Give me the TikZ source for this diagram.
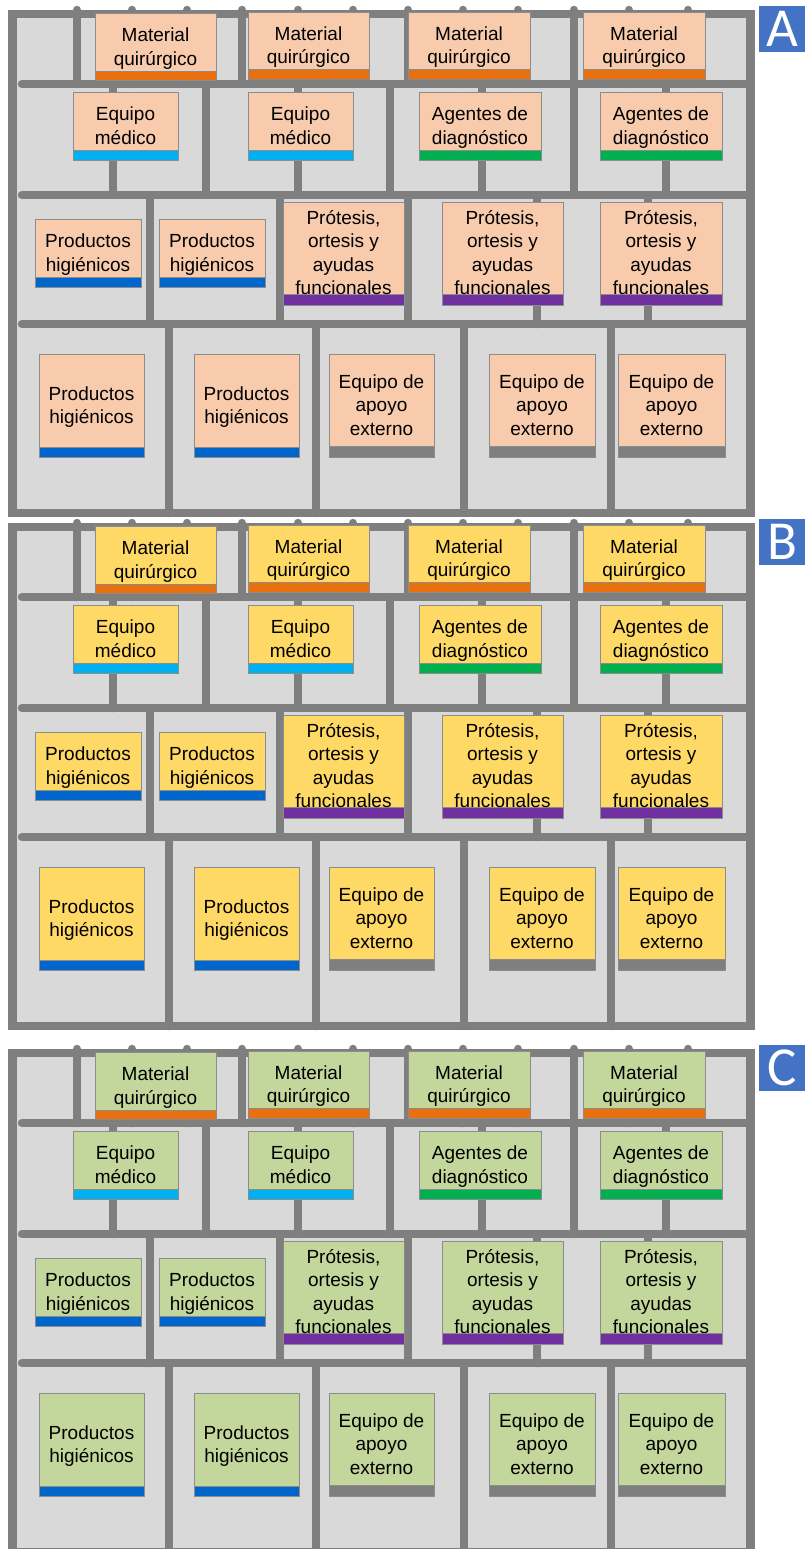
\documentclass[tikz,border=0pt]{standalone}
\usepackage{fontspec}
\setmainfont{Liberation Sans}
\newfontfamily\labelfont{Carlito}
\definecolor{framegray}{HTML}{7F7F7F}
\definecolor{cellfill}{HTML}{D9D9D9}
\definecolor{boxborder}{HTML}{8C8C8C}
\definecolor{peach}{HTML}{F8CBAD}
\definecolor{yellowfill}{HTML}{FFD966}
\definecolor{olivefill}{HTML}{C3D69B}
\definecolor{barorange}{HTML}{E8700F}
\definecolor{barcyan}{HTML}{00B0F0}
\definecolor{bargreen}{HTML}{00B050}
\definecolor{barblue}{HTML}{0066CC}
\definecolor{barpurple}{HTML}{7030A0}
\definecolor{bargray}{HTML}{7F7F7F}
\definecolor{labelblue}{HTML}{4472C4}
\tikzset{
  gridline/.style={line width=8.5pt, draw=framegray, line cap=round},
  framerect/.style={line width=8.5pt, draw=framegray},
  boxline/.style={draw=boxborder, line width=0.8pt},
  itemtext/.style={inner sep=0pt, align=center, text=black, font=\fontsize{19}{23.5}\selectfont},
  labelbox/.style={fill=labelblue, text=white, inner sep=0pt, minimum width=47pt, minimum height=46pt, font=\labelfont\fontsize{55}{55}\selectfont}
}
% #1 name, #2 x1, #3 x2, #4 top, #5 bar top, #6 bar bottom, #7 bar colour, #8 text, #9 lines
\newcommand\ibox[9]{%
  \draw[boxline, fill=boxfill] (#2,#4) rectangle (#3,#5);
  \draw[boxline, fill=#7] (#2,#5) rectangle (#3,#6);
  \node[itemtext, anchor=north] (#1) at ({(#2+#3)/2},{(#4+#5)/2-4.7-(#9-1)*11.75}) {\rule{0pt}{16pt}#8};
}
\begin{document}
\begin{tikzpicture}[x=1pt,y=-1pt]
\useasboundingbox (0,0) rectangle (805,1549);
\clip (0,0) rectangle (805,1549);
\foreach \p/\off/\col in {A/0/peach, B/513/yellowfill, C/1039/olivefill}{
\begin{scope}[yshift=-\off pt]
  \colorlet{boxfill}{\col}
  \fill[cellfill] (12,14) rectangle (750,513);
  \foreach \x in {77,132,187,242,298,353,408,463,518,574,629,688}
    \draw[gridline] (\x,10) -- (\x,84);
  \foreach \x in {113,206,298,390,482,574,666}
    \draw[gridline] (\x,84) -- (\x,195);
  \foreach \x in {150,280,408,537,648}
    \draw[gridline] (\x,195) -- (\x,324);
  \foreach \x in {169,316,464,611}
    \draw[gridline] (\x,324) -- (\x,513);
  \foreach \y in {84,195,324}
    \draw[gridline] (22,\y) -- (750,\y);
  \draw[framerect] (12.5,14) rectangle (750.5,513);
  % row 1
  \ibox{\p m1}{95}{216}{13}{71}{80}{barorange}{Material\\quirúrgico}{2}
  \ibox{\p m2}{248}{369}{12}{69}{79}{barorange}{Material\\quirúrgico}{2}
  \ibox{\p m3}{408}{530}{12}{69}{79}{barorange}{Material\\quirúrgico}{2}
  \ibox{\p m4}{583}{705}{12}{69}{79}{barorange}{Material\\quirúrgico}{2}
  % row 2
  \ibox{\p e1}{73}{178}{92}{150}{160}{barcyan}{Equipo\\médico}{2}
  \ibox{\p e2}{248}{353}{92}{150}{160}{barcyan}{Equipo\\médico}{2}
  \ibox{\p a1}{419}{541}{92}{150}{160}{bargreen}{Agentes de\\diagnóstico}{2}
  \ibox{\p a2}{600}{722}{92}{150}{160}{bargreen}{Agentes de\\diagnóstico}{2}
  % row 3
  \ibox{\p p1}{35}{141}{219}{277}{287}{barblue}{Productos\\higiénicos}{2}
  \ibox{\p p2}{159}{265}{219}{277}{287}{barblue}{Productos\\higiénicos}{2}
  \ibox{\p r1}{283}{404}{202}{294}{305}{barpurple}{Prótesis,\\ortesis y\\ayudas\\funcionales}{4}
  \ibox{\p r2}{442}{563}{202}{294}{305}{barpurple}{Prótesis,\\ortesis y\\ayudas\\funcionales}{4}
  \ibox{\p r3}{600}{722}{202}{294}{305}{barpurple}{Prótesis,\\ortesis y\\ayudas\\funcionales}{4}
  % row 4
  \ibox{\p q1}{39}{144}{354}{447}{457}{barblue}{Productos\\higiénicos}{2}
  \ibox{\p q2}{194}{299}{354}{447}{457}{barblue}{Productos\\higiénicos}{2}
  \ibox{\p x1}{329}{434}{354}{446}{457}{bargray}{Equipo de\\apoyo\\externo}{3}
  \ibox{\p x2}{489}{595}{354}{446}{457}{bargray}{Equipo de\\apoyo\\externo}{3}
  \ibox{\p x3}{618}{725}{354}{446}{457}{bargray}{Equipo de\\apoyo\\externo}{3}
  \node[labelbox] (lab\p) at (782.5,29) {\p};
\end{scope}
}
\end{tikzpicture}
\end{document}
